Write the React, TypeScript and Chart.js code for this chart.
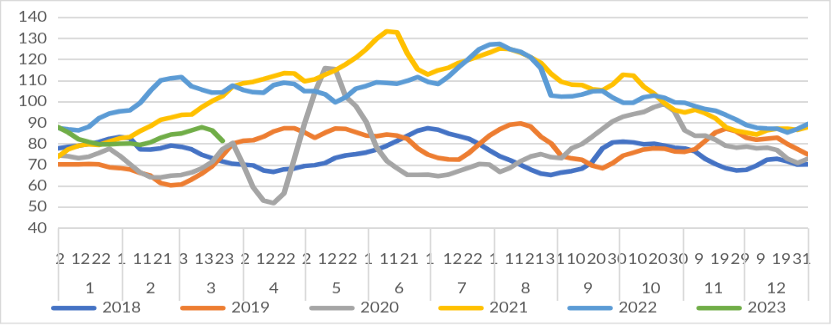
import React, { useEffect, useRef } from 'react';
import { Chart, registerables } from 'chart.js';

Chart.register(...registerables);

const years = ['2018', '2019', '2020', '2021', '2022', '2023'];
const colors = ['#4472C4', '#ED7D31', '#A5A5A5', '#FFC000', '#5B9BD5', '#70AD47'];

const sampleDays = [
  0, 5, 10, 15, 20, 25, 30, 35, 40, 45, 50, 55, 60, 65, 70, 75, 80, 85, 90, 95,
  100, 105, 110, 115, 120, 125, 130, 135, 140, 145, 150, 155, 160, 165, 170, 175, 180, 185, 190, 195,
  200, 205, 210, 215, 220, 225, 230, 235, 240, 245, 250, 255, 260, 265, 270, 275, 280, 285, 290, 295,
  300, 305, 310, 315, 320, 325, 330, 335, 340, 345, 350, 355, 360, 365,
];

const v2018 = [
  78, 78.7, 79.2, 80, 81, 82.5, 83.3, 82.8, 77.5, 77.4,
  78, 79.3, 78.7, 77.5, 74.9, 73.3, 71.8, 70.6, 70.2, 69.9,
  67.5, 66.8, 68, 68.4, 69.6, 70, 71, 73.5, 74.6, 75.2,
  76, 77.3, 79.2, 81.5, 83.9, 86.3, 87.5, 86.8, 85, 83.8,
  82.5, 80, 77, 74.2, 72.3, 70.2, 67.9, 66, 65.3, 66.5,
  67.2, 68.3, 71.5, 78, 80.8, 81.1, 80.8, 79.9, 80.2, 79.3,
  78.3, 77.9, 76.5, 73, 70.5, 68.5, 67.5, 67.8, 69.8, 72.5,
  73, 71.8, 70.2, 70.3,
];

const v2019 = [
  70.3, 70.3, 70.3, 70.5, 70.3, 69, 68.6, 68, 66.3, 65,
  61.5, 60.4, 60.8, 63.2, 66, 69.5, 74.5, 80.2, 81.5, 81.8,
  83.5, 86, 87.5, 87.5, 85.5, 83, 85.4, 87.4, 87.2, 85.6,
  84, 83.7, 84.5, 84, 82.5, 78, 75, 73.4, 72.7, 72.6,
  75.8, 80, 84, 87, 89.2, 89.8, 88.3, 83.5, 80.3, 74.3,
  73.2, 72.5, 69.8, 68.5, 71, 74.5, 75.9, 77.4, 78, 77.8,
  76.5, 76.3, 77.5, 81.5, 85.5, 87.3, 86, 83, 82, 82.5,
  83, 80, 77.5, 75,
];

const v2020 = [
  74.6, 74.2, 73.3, 74, 75.8, 77.8, 74.5, 70.5, 66.5, 64.3,
  64.2, 65, 65.3, 66.5, 68.5, 71.5, 77.5, 80.5, 70.5, 59.4,
  53.2, 52, 56.6, 73, 89.8, 104.5, 116, 115.5, 102.5, 98,
  90.5, 78.5, 72, 68.5, 65.4, 65.4, 65.5, 64.8, 65.5, 67.2,
  68.8, 70.5, 70.2, 66.8, 68.7, 71.8, 74.1, 75.2, 73.8, 73.3,
  78, 80, 83.5, 87.2, 90.8, 93, 94.2, 95.2, 97.5, 99,
  95.5, 86.5, 83.9, 84, 82, 79.2, 78.3, 78.8, 78, 78.3,
  77.1, 73, 71, 73,
];

const v2021 = [
  74, 77.5, 79.2, 79.9, 79.6, 81.2, 82.7, 83.3, 86.2, 88.5,
  91.5, 92.6, 93.8, 94, 97.5, 100.4, 102.7, 107.3, 108.8, 109.5,
  110.8, 112.2, 113.6, 113.5, 109.8, 110.7, 112.9, 115, 117.8, 121,
  125, 129.9, 133.5, 133, 123, 115.5, 113, 115, 116.2, 118.5,
  120, 121.7, 123.4, 125.3, 125, 123.4, 121.2, 118.5, 113.3, 109.5,
  108.2, 108, 106, 105.5, 108.3, 112.9, 112.5, 107.3, 104, 99.5,
  96.2, 95, 96.3, 94.6, 92.2, 88, 86.3, 85.4, 84.5, 86.5,
  87.3, 87.3, 86.7, 88,
];

const v2022 = [
  87.6, 87, 86.5, 88.2, 92.3, 94.5, 95.5, 96, 99.5, 105.3,
  110.2, 111.2, 111.8, 107.4, 105.8, 104.4, 104.5, 107.7, 105.7, 104.6,
  104.3, 108, 109.1, 108.5, 105.1, 105.1, 103.6, 99.8, 102.2, 106.3,
  107.6, 109.3, 109, 108.6, 110, 111.8, 109.5, 108.5, 112, 116.5,
  120.5, 125, 127.2, 127.5, 125, 123.8, 121.2, 116, 103, 102.5,
  102.6, 103.5, 105, 105.2, 102, 99.6, 99.6, 102.2, 103, 102,
  99.8, 99.6, 98, 96.6, 95.8, 93.8, 91.6, 89, 87.7, 87.4,
  87.3, 85.5, 87.2, 89.5,
];

const v2023 = [
  88, 85.5, 82.3, 81, 79.9, 79.9, 80.2, 80.3, 79.6, 80.8,
  83, 84.5, 85, 86.5, 88, 86.5, 81.5,
];

// ---- axis labels ----
const monthNames = ['1', '2', '3', '4', '5', '6', '7', '8', '9', '10', '11', '12'];
const monthLengths = [31, 28, 31, 30, 31, 30, 31, 31, 30, 31, 30, 31];
// [slot within month, label text]
const dayLabels: [number, string][][] = [
  [[2, '2'], [12, '12'], [22, '22']],
  [[1, '1'], [11, '11'], [21, '21']],
  [[3, '3'], [13, '13'], [23, '23']],
  [[2, '2'], [12, '12'], [22, '22']],
  [[2, '2'], [12, '12'], [22, '22']],
  [[1, '1'], [11, '11'], [21, '21']],
  [[1, '1'], [12, '12'], [22, '22']],
  [[1, '1'], [11, '11'], [21, '21'], [31, '31']],
  [[10, '10'], [20, '20'], [30, '30']],
  [[10, '10'], [20, '20'], [30, '30']],
  [[9, '9'], [19, '19'], [29, '29']],
  [[9, '9'], [19, '19'], [29, '31']],
];

const FONT = "Lato, 'Liberation Sans', sans-serif";
const FS = 16.7;
const TEXT = '#595959';
const GRID = '#D9D9D9';
const CANVAS_H = 389;

const monthStarts: number[] = [0];
monthLengths.forEach((l, i) => monthStarts.push(monthStarts[i] + l));

const tickPositions: number[] = [];
const tickTexts: string[] = [];
dayLabels.forEach((items, m) => {
  items.forEach(([slot, text]) => {
    tickPositions.push(monthStarts[m] + slot - 1);
    tickTexts.push(text);
  });
});

const monthAxisPlugin = {
  id: 'monthAxis',
  beforeDraw(chart: any) {
    const { ctx, width, height } = chart;
    ctx.save();
    ctx.fillStyle = '#ffffff';
    ctx.fillRect(0, 0, width, height);
    ctx.restore();
  },
  afterDraw(chart: any) {
    const { ctx, chartArea } = chart;
    const x = chart.scales.x;
    ctx.save();
    ctx.strokeStyle = GRID;
    ctx.lineWidth = 1.6;
    monthStarts.forEach((b) => {
      const px = Math.round(x.getPixelForValue(b)) + 0.5;
      ctx.beginPath();
      ctx.moveTo(px, chartArea.bottom);
      ctx.lineTo(px, 360);
      ctx.stroke();
    });
    ctx.fillStyle = TEXT;
    ctx.font = `${FS}px ${FONT}`;
    ctx.textAlign = 'center';
    ctx.textBaseline = 'middle';
    monthNames.forEach((m, i) => {
      const c = x.getPixelForValue((monthStarts[i] + monthStarts[i + 1]) / 2);
      ctx.fillText(m, c, 346);
    });
    ctx.strokeStyle = GRID;
    ctx.lineWidth = 1.4;
    ctx.strokeRect(0.5, 0.6, 829.5, 386.4);
    ctx.restore();
  },
};

export default function App() {
  const ref = useRef<HTMLCanvasElement>(null);

  useEffect(() => {
    const canvas = ref.current;
    if (!canvas) return;
    const series = [v2018, v2019, v2020, v2021, v2022, v2023];
    const chart = new Chart(canvas, {
      type: 'line',
      data: {
        datasets: years.map((label, i) => ({
          label,
          data: series[i].map((v, j) => ({ x: sampleDays[j], y: v })),
          borderColor: colors[i],
          backgroundColor: colors[i],
          borderWidth: 5.5,
          pointRadius: 0,
          pointHoverRadius: 0,
          tension: 0,
          fill: false,
          borderJoinStyle: 'round',
          borderCapStyle: 'round',
          order: years.length - i,
          yAxisID: 'y',
        })),
      },
      options: {
        responsive: false,
        animation: false,
        devicePixelRatio: 1,
        events: [],
        layout: { padding: { left: 8, right: 0, top: 16.8, bottom: 2 } },
        plugins: {
          tooltip: { enabled: false },
          title: { display: false },
          legend: {
            display: true,
            position: 'bottom',
            align: 'center',
            labels: {
              color: TEXT,
              font: { family: FONT, size: FS },
              boxWidth: 40,
              boxHeight: 0,
              padding: 42,
              sort: (a: any, b: any) => a.datasetIndex - b.datasetIndex,
            },
          },
        },
        scales: {
          x: {
            type: 'linear',
            min: 0,
            max: 365,
            grid: { display: false },
            border: { display: false },
            afterBuildTicks: (s: any) => {
              s.ticks = tickPositions.map((v) => ({ value: v }));
            },
            afterFit: (s: any) => {
              s.height = 45;
            },
            ticks: {
              autoSkip: false,
              maxRotation: 0,
              minRotation: 0,
              padding: 18.9,
              color: TEXT,
              font: { family: FONT, size: FS },
              callback: (_v: any, i: number) => tickTexts[i],
            },
          },
          y: {
            min: 40,
            max: 140,
            position: 'left',
            afterFit: (s: any) => {
              s.width = 50;
            },
            ticks: {
              stepSize: 10,
              padding: 11,
              color: TEXT,
              font: { family: FONT, size: FS },
            },
            grid: { color: GRID, lineWidth: 2, drawTicks: false },
            border: { display: false },
          },
          yRight: {
            type: 'linear',
            position: 'right',
            display: true,
            min: 0,
            max: 1,
            afterFit: (s: any) => {
              s.width = 24;
            },
            ticks: { display: false },
            grid: { display: false, drawTicks: false },
            border: { display: false },
          },
        },
      },
      plugins: [monthAxisPlugin],
    } as any);
    return () => chart.destroy();
  }, []);

  return (
    <div style={{ position: 'absolute', left: 0, top: 0, width: 832, height: 325, background: '#fff' }}>
      <canvas
        ref={ref}
        width={832}
        height={CANVAS_H}
        style={{ width: '832px', height: '325px', display: 'block' }}
      />
    </div>
  );
}
